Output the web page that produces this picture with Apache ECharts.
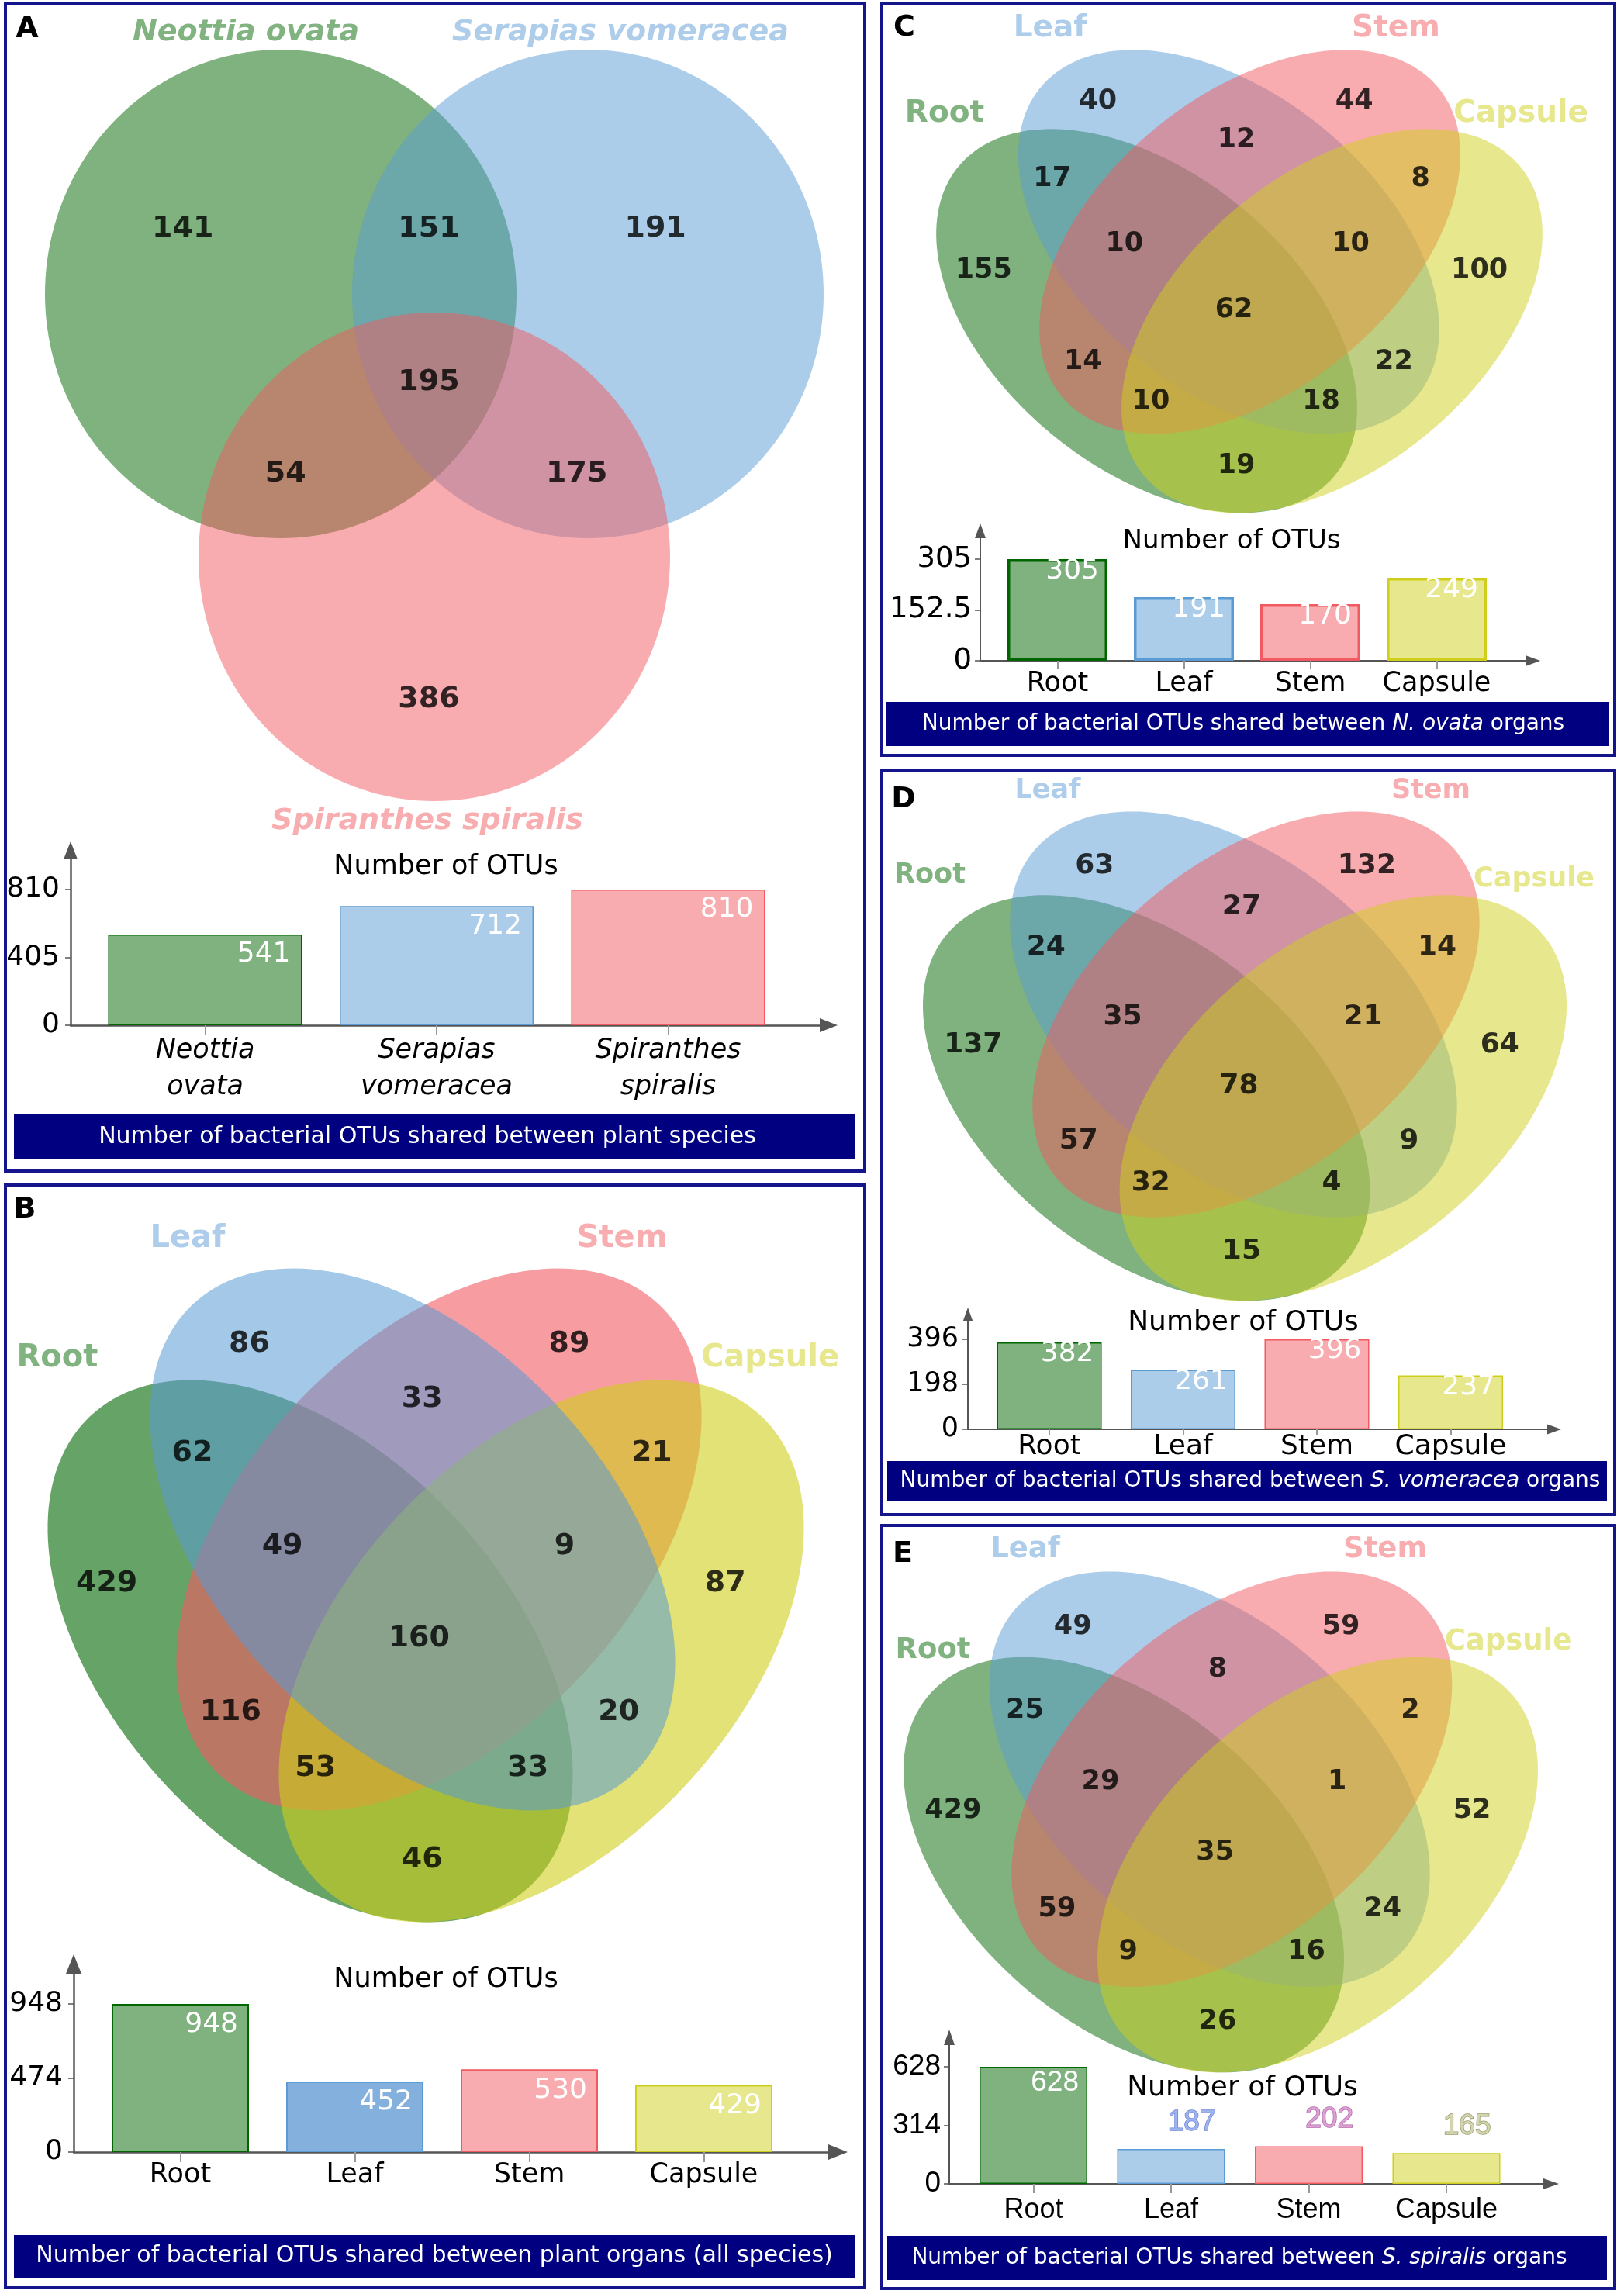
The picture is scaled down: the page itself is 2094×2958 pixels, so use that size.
<!DOCTYPE html>
<html><head><meta charset="utf-8">
<script src="https://cdn.jsdelivr.net/npm/echarts@6/dist/echarts.min.js"></script>
<style>html,body{margin:0;padding:0;background:#fff}#c{width:2094px;height:2958px}</style>
</head><body><div id="c"></div>
<script>
// ---------------- DATA ----------------
const speciesNames = ['Neottia ovata', 'Serapias vomeracea', 'Spiranthes spiralis'];
const speciesRegionKeys = ['N', 'S', 'P', 'NS', 'NP', 'SP', 'NSP'];
const speciesRegionValues = [141, 191, 386, 151, 54, 175, 195];
const speciesTotals = [541, 712, 810];
const speciesTicks = [0, 405, 810];

const organNames = ['Root', 'Leaf', 'Stem', 'Capsule'];
const organRegionKeys = ['R', 'L', 'S', 'C', 'RL', 'LS', 'SC', 'RS', 'LC', 'RC', 'RLS', 'LSC', 'RSC', 'RLC', 'RLSC'];
const allRegionValues = [429, 86, 89, 87, 62, 33, 21, 116, 20, 46, 49, 9, 53, 33, 160];
const allTotals = [948, 452, 530, 429];
const allTicks = [0, 474, 948];
const ovataRegionValues = [155, 40, 44, 100, 17, 12, 8, 14, 22, 19, 10, 10, 10, 18, 62];
const ovataTotals = [305, 191, 170, 249];
const ovataTicks = [0, 152.5, 305];
const vomRegionValues = [137, 63, 132, 64, 24, 27, 14, 57, 9, 15, 35, 21, 32, 4, 78];
const vomTotals = [382, 261, 396, 237];
const vomTicks = [0, 198, 396];
const spirRegionValues = [429, 49, 59, 52, 25, 8, 2, 59, 24, 26, 29, 1, 9, 16, 35];
const spirTotals = [628, 187, 202, 165];
const spirTicks = [0, 314, 628];

// ---------------- LAYOUT / STYLE ----------------
const FONT = '"DejaVu Sans", sans-serif';
const ARIAL = '"Liberation Sans", Arial, sans-serif';
const BASE = ['#006600', '#5a9bd4', '#f15a60', '#cfcf1b'];
const LIGHT = ['#80b380', '#adcdea', '#f8adb0', '#e7e78d'];
const FILL = ['rgba(0,102,0,0.5)', 'rgba(90,155,212,0.5)', 'rgba(241,90,96,0.5)', 'rgba(207,207,27,0.5)'];

// 3-set shape reference frame
const REF3 = {w: 1004, h: 969};
const SHAPES3 = [
  {cx: 304, cy: 315, a: 304, b: 315, rot: 0},
  {cx: 700, cy: 315, a: 304, b: 315, rot: 0},
  {cx: 502, cy: 654, a: 304, b: 315, rot: 0}
];
const POS3 = [[0.177, 0.234], [0.784, 0.234], [0.493, 0.861], [0.493, 0.234], [0.309, 0.560], [0.683, 0.560], [0.493, 0.439]];

// 4-set shape reference frame
const REF4 = {w: 968, h: 843};
const SHAPES4 = [
  {cx: 335, cy: 494, a: 415, b: 254, rot: 47},
  {cx: 467, cy: 350, a: 415, b: 254, rot: 47},
  {cx: 501, cy: 350, a: 415, b: 254, rot: -47},
  {cx: 633, cy: 494, a: 415, b: 254, rot: -47}
];
const POS4 = [[0.075, 0.478], [0.265, 0.112], [0.691, 0.112], [0.899, 0.478], [0.189, 0.279], [0.495, 0.196], [0.801, 0.279],
  [0.240, 0.675], [0.757, 0.675], [0.495, 0.900], [0.309, 0.421], [0.685, 0.421], [0.353, 0.760], [0.636, 0.760], [0.491, 0.562]];

const grids = [], xAxes = [], yAxes = [], series = [], graphics = [];

function addGrid(left, top, width, height) {
  grids.push({left: left, top: top, width: width, height: height});
  return grids.length - 1;
}

// order: drawing order of shapes; opac: opacity per shape index
function addVenn(box, ref, shapes, colors, opac, order, positions, values, numSize, dy) {
  const gi = addGrid(box.x, box.y, box.w, box.h);
  xAxes.push({type: 'value', gridIndex: gi, min: 0, max: 1, show: false});
  yAxes.push({type: 'value', gridIndex: gi, min: 0, max: 1, inverse: true, show: false});
  series.push({
    type: 'custom', xAxisIndex: gi, yAxisIndex: gi, silent: true, z: 1, clip: false,
    data: order.map(i => [shapes[i].cx / ref.w, shapes[i].cy / ref.h, i]),
    renderItem: function (params, api) {
      const si = order[params.dataIndex];
      const s = shapes[si];
      const th = s.rot * Math.PI / 180;
      const pts = [];
      for (let k = 0; k < 180; k++) {
        const t = 2 * Math.PI * k / 180;
        const ex = s.cx + s.a * Math.cos(t) * Math.cos(th) - s.b * Math.sin(t) * Math.sin(th);
        const ey = s.cy + s.a * Math.cos(t) * Math.sin(th) + s.b * Math.sin(t) * Math.cos(th);
        pts.push(api.coord([ex / ref.w, ey / ref.h]));
      }
      return {type: 'polygon', shape: {points: pts}, style: {fill: colors[si], opacity: opac[si]}};
    }
  });
  series.push({
    type: 'scatter', xAxisIndex: gi, yAxisIndex: gi, z: 5, silent: true, symbolSize: 1,
    itemStyle: {color: 'rgba(0,0,0,0)'},
    data: positions.map((p, i) => [p[0], p[1], values[i]]),
    label: {show: true, position: 'inside', offset: [0, dy || 0], formatter: p => String(p.value[2]), fontSize: numSize,
      fontWeight: 'bold', fontFamily: FONT, color: '#000'}
  });
}

function addBars(L, names, values, ticks, fills, strokes, catFormatter, itemLabels) {
  const gridTop = L.tipTop + L.arrow[1] / 2;
  const gridRight = L.tipRight - L.arrow[1] / 2;
  const tickMax = ticks[ticks.length - 1];
  const ymax = tickMax * (L.axisY - gridTop) / (L.axisY - L.maxPx);
  const xmin = (L.axisX - L.c0) / L.unit;
  const xmax = (gridRight - L.c0) / L.unit;
  const gi = addGrid(L.axisX, gridTop, gridRight - L.axisX, L.axisY - gridTop);
  const idx = names.map((n, i) => i);
  const axisLine = {show: true, onZero: false, lineStyle: {color: '#555', width: L.lineW},
    symbol: ['none', 'triangle'], symbolSize: [L.arrow[0], L.arrow[1]]};
  xAxes.push({type: 'value', gridIndex: gi, min: xmin, max: xmax, splitLine: {show: false},
    axisLine: axisLine,
    axisTick: {show: true, customValues: idx, length: L.tickLen, lineStyle: {color: '#999', width: 2}},
    axisLabel: {show: true, customValues: idx, formatter: v => catFormatter(names[Math.round(v)]),
      margin: L.catMargin, fontSize: L.catSize, fontFamily: L.font, color: '#000',
      fontStyle: L.catItalic ? 'italic' : 'normal', lineHeight: L.catLH || L.catSize * 1.1}
  });
  yAxes.push({type: 'value', gridIndex: gi, min: 0, max: ymax, splitLine: {show: false},
    axisLine: axisLine,
    axisTick: {show: true, customValues: ticks, length: 7, lineStyle: {color: '#555', width: 1.5}},
    axisLabel: {show: true, customValues: ticks, margin: L.tickMargin, fontSize: L.tickSize,
      fontFamily: L.font, color: '#000', formatter: v => String(v)}
  });
  series.push({
    type: 'bar', xAxisIndex: gi, yAxisIndex: gi, barWidth: L.barW, z: 3, silent: true,
    data: values.map((v, i) => {
      const d = {value: [i, v], itemStyle: {color: fills[i], borderColor: strokes[i], borderWidth: L.border}};
      if (itemLabels && itemLabels[i]) d.label = itemLabels[i];
      return d;
    }),
    label: {show: true, position: ['100%', 0], align: 'right', verticalAlign: 'top',
      offset: [-L.padR, L.padT], color: '#fff', fontSize: L.valSize, fontFamily: L.font,
      formatter: p => String(p.value[1])}
  });
}

function txt(x, y, text, font, fill, extra) {
  graphics.push({type: 'text', x: x, y: y, z: 20, silent: true,
    style: Object.assign({text: text, font: font, fill: fill, align: 'center', verticalAlign: 'middle'}, extra || {})});
}
function box(x, y, w, h) {
  graphics.push({type: 'rect', z: 15, silent: true, shape: {x: x, y: y, width: w, height: h},
    style: {fill: 'none', stroke: '#14148c', lineWidth: 4}});
}
function footer(x, y, w, h, cx, parts, size) {
  graphics.push({type: 'rect', z: 15, silent: true, shape: {x: x, y: y, width: w, height: h}, style: {fill: '#000080'}});
  const text = parts.map(p => (p[1] ? '{i|' : '{n|') + p[0] + '}').join('');
  graphics.push({type: 'text', x: cx, y: y + h / 2, z: 20, silent: true,
    style: {text: text, align: 'center', verticalAlign: 'middle', fill: '#fff', font: size + 'px ' + FONT,
      rich: {n: {fill: '#fff', fontSize: size, fontFamily: FONT},
             i: {fill: '#fff', fontSize: size, fontFamily: FONT, fontStyle: 'italic'}}}});
}

// ---------------- PANEL A ----------------
box(7, 4, 1108, 1506);
txt(35, 38, 'A', 'bold 38px ' + FONT, '#000');
addVenn({x: 58, y: 64, w: 1004, h: 969}, REF3, SHAPES3, BASE.slice(0, 3), [0.5, 0.5, 0.5], [0, 1, 2],
  POS3, speciesRegionValues, 38, 4);
txt(317, 42, speciesNames[0], 'italic bold 38px ' + FONT, LIGHT[0]);
txt(800, 42, speciesNames[1], 'italic bold 38px ' + FONT, LIGHT[1]);
txt(551, 1059, speciesNames[2], 'italic bold 38px ' + FONT, LIGHT[2]);
txt(575, 1118, 'Number of OTUs', '35px ' + FONT, '#000');
addBars({axisX: 91, axisY: 1322, tipTop: 1085, tipRight: 1080, c0: 264.5, unit: 298.5, barW: 250, maxPx: 1147,
  arrow: [18, 23], lineW: 2.5, tickLen: 12, catMargin: 9, catSize: 35, catLH: 47, catItalic: true,
  tickMargin: 14, tickSize: 36, valSize: 36, border: 1.5, padR: 15, padT: 8, font: FONT},
  speciesNames, speciesTotals, speciesTicks, FILL.slice(0, 3), BASE.slice(0, 3), n => n.replace(' ', '\n'));
footer(18, 1437, 1084, 58, 551, [['Number of bacterial OTUs shared between plant species', false]], 30);

// ---------------- PANEL B ----------------
box(7, 1528, 1108, 1422);
txt(32, 1560, 'B', 'bold 38px ' + FONT, '#000');
addVenn({x: 65, y: 1635, w: 968, h: 843}, REF4, SHAPES4, BASE, [0.6, 0.55, 0.6, 0.6], [0, 2, 3, 1],
  POS4, allRegionValues, 38, 4);
txt(242, 1598, organNames[1], 'bold 40px ' + FONT, LIGHT[1]);
txt(802, 1598, organNames[2], 'bold 40px ' + FONT, LIGHT[2]);
txt(74, 1752, organNames[0], 'bold 40px ' + FONT, LIGHT[0]);
txt(993, 1752, organNames[3], 'bold 40px ' + FONT, LIGHT[3]);
txt(575, 2553, 'Number of OTUs', '35px ' + FONT, '#000');
addBars({axisX: 95, axisY: 2775, tipTop: 2520, tipRight: 1093, c0: 232.5, unit: 225, barW: 177, maxPx: 2584,
  arrow: [20, 25], lineW: 2.5, tickLen: 13, catMargin: 11, catSize: 35, catItalic: false,
  tickMargin: 14, tickSize: 36, valSize: 36, border: 2, padR: 14, padT: 9, font: FONT},
  organNames, allTotals, allTicks, [FILL[0], '#84b0de', FILL[2], FILL[3]], BASE, n => n);
footer(18, 2882, 1084, 55, 560, [['Number of bacterial OTUs shared between plant organs (all species)', false]], 30);

// ---------------- PANEL C ----------------
box(1137, 5, 945, 969);
txt(1166, 36, 'C', 'bold 38px ' + FONT, '#000');
addVenn({x: 1210, y: 64, w: 776, h: 597}, REF4, SHAPES4, BASE, [0.5, 0.5, 0.5, 0.5], [0, 1, 2, 3],
  POS4, ovataRegionValues, 35, 0);
txt(1354, 37, organNames[1], 'bold 39px ' + FONT, LIGHT[1]);
txt(1800, 37, organNames[2], 'bold 39px ' + FONT, LIGHT[2]);
txt(1218, 147, organNames[0], 'bold 39px ' + FONT, LIGHT[0]);
txt(1961, 147, organNames[3], 'bold 39px ' + FONT, LIGHT[3]);
txt(1588, 698, 'Number of OTUs', '34px ' + FONT, '#000');
addBars({axisX: 1264, axisY: 852, tipTop: 675, tipRight: 1986, c0: 1363.5, unit: 163, barW: 129, maxPx: 721,
  arrow: [14, 19], lineW: 2, tickLen: 11, catMargin: 11, catSize: 35, catItalic: false,
  tickMargin: 11, tickSize: 37, valSize: 36, border: 3.5, padR: 11, padT: -2, font: FONT},
  organNames, ovataTotals, ovataTicks, FILL, BASE, n => n);
footer(1142, 905, 933, 57, 1603, [['Number of bacterial OTUs shared between ', false], ['N. ovata', true], [' organs', false]], 28);

// ---------------- PANEL D ----------------
box(1137, 994, 945, 959);
txt(1165, 1031, 'D', 'bold 38px ' + FONT, '#000');
addVenn({x: 1193, y: 1046, w: 824, h: 631}, REF4, SHAPES4, BASE, [0.5, 0.5, 0.5, 0.5], [0, 1, 2, 3],
  POS4, vomRegionValues, 36, 0);
txt(1351, 1020, organNames[1], 'bold 35px ' + FONT, LIGHT[1]);
txt(1845, 1020, organNames[2], 'bold 35px ' + FONT, LIGHT[2]);
txt(1199, 1129, organNames[0], 'bold 35px ' + FONT, LIGHT[0]);
txt(1978, 1134, organNames[3], 'bold 35px ' + FONT, LIGHT[3]);
txt(1603, 1706, 'Number of OTUs', '36px ' + FONT, '#000');
addBars({axisX: 1248, axisY: 1843, tipTop: 1686, tipRight: 2013, c0: 1353, unit: 172.5, barW: 135, maxPx: 1727,
  arrow: [13, 18], lineW: 2, tickLen: 8, catMargin: 3, catSize: 36, catItalic: false,
  tickMargin: 12, tickSize: 35, valSize: 36, border: 1.5, padR: 10, padT: -3, font: FONT},
  organNames, vomTotals, vomTicks, FILL, BASE, n => n);
footer(1144, 1884, 928, 51, 1612, [['Number of bacterial OTUs shared between ', false], ['S. vomeracea', true], [' organs', false]], 28);

// ---------------- PANEL E ----------------
box(1137, 1967, 945, 984);
txt(1164, 2004, 'E', 'bold 38px ' + FONT, '#000');
addVenn({x: 1168, y: 2026, w: 812, h: 646}, REF4, SHAPES4, BASE, [0.5, 0.5, 0.5, 0.5], [0, 1, 2, 3],
  POS4, spirRegionValues, 35, 0);
txt(1322, 1998, organNames[1], 'bold 37px ' + FONT, LIGHT[1]);
txt(1786, 1998, organNames[2], 'bold 37px ' + FONT, LIGHT[2]);
txt(1203, 2128, organNames[0], 'bold 37px ' + FONT, LIGHT[0]);
txt(1945, 2117, organNames[3], 'bold 37px ' + FONT, LIGHT[3]);
txt(1602, 2693, 'Number of OTUs', '36px ' + FONT, '#000');
const aboveLabel = (fill, stroke) => ({verticalAlign: 'bottom', offset: [-12, -16], color: fill,
  textBorderColor: stroke, textBorderWidth: 1.5});
addBars({axisX: 1224, axisY: 2816, tipTop: 2617, tipRight: 2010, c0: 1332.5, unit: 177.5, barW: 139, maxPx: 2665,
  arrow: [14, 20], lineW: 2, tickLen: 12, catMargin: 14, catSize: 36, catItalic: false,
  tickMargin: 11, tickSize: 37, valSize: 37, border: 1.5, padR: 11, padT: 2, font: ARIAL},
  organNames, spirTotals, spirTicks, FILL, BASE, n => n,
  [null, aboveLabel('#9fb3ee', '#6e86d6'), aboveLabel('#dca0d4', '#b06aa8'), aboveLabel('#d4d4ae', '#9a9a6c')]);
footer(1144, 2883, 928, 57, 1598, [['Number of bacterial OTUs shared between ', false], ['S. spiralis', true], [' organs', false]], 28);

// ---------------- CHART ----------------
const chart = echarts.init(document.getElementById('c'), null, {renderer: 'canvas', width: 2094, height: 2958});
chart.setOption({
  animation: false,
  backgroundColor: '#ffffff',
  grid: grids,
  xAxis: xAxes,
  yAxis: yAxes,
  series: series,
  graphic: graphics
});
</script>
</body></html>
